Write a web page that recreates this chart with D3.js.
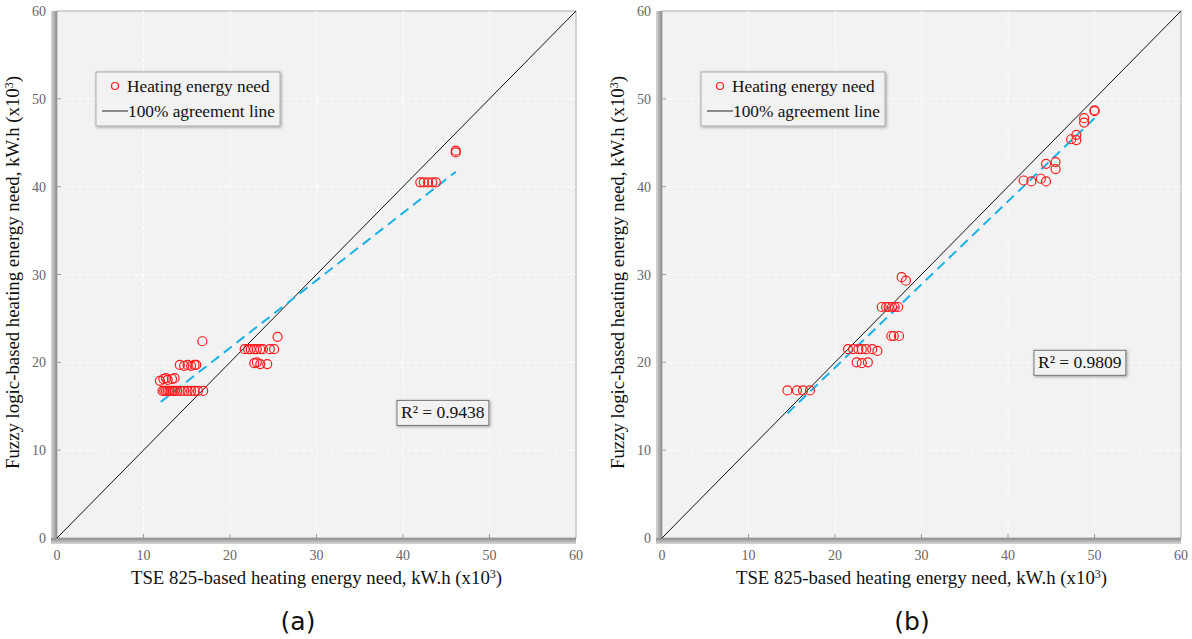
<!DOCTYPE html>
<html><head><meta charset="utf-8">
<script src="https://cdn.jsdelivr.net/npm/d3@7"></script>
<style>body{margin:0;background:#fff}svg{display:block}</style></head>
<body><svg id="c" width="1192" height="639"></svg>
<script>
// ---- data ----
const tickValues = [0, 10, 20, 30, 40, 50, 60];
const xTitle = "TSE 825-based heating energy need, kW.h (x10";
const yTitle = "Fuzzy logic-based heating energy need, kW.h (x10";
const legendLabels = ["Heating energy need", "100% agreement line"];

// panel (a)
const aX = [12.2,12.4,12.6,12.8,13.0,13.2,13.4,13.6,13.9,14.3,14.7,15.1,15.5,15.9,16.3,16.9,
            11.9,12.3,12.6,12.8,13.3,13.6,
            14.2,14.7,15.1,15.5,15.9,16.1,
            16.8,
            21.7,22.1,22.4,22.8,23.1,23.5,23.8,24.6,25.1,
            25.5,
            22.8,23.1,23.5,24.3,
            42.0,42.4,42.9,43.4,43.8,
            46.1,46.1];
const aY = [16.75,16.75,16.75,16.75,16.75,16.75,16.75,16.75,16.75,16.75,16.75,16.75,16.75,16.75,16.75,16.75,
            17.9,18.1,18.2,18.0,18.1,18.2,
            19.7,19.6,19.7,19.6,19.7,19.7,
            22.4,
            21.5,21.5,21.5,21.5,21.5,21.5,21.5,21.5,21.5,
            22.9,
            19.9,20.0,19.8,19.8,
            40.5,40.5,40.5,40.5,40.5,
            44.1,43.9];
const aTrendX = [12.0, 46.1];
const aTrendY = [15.5, 41.7];
const aR2 = "R² = 0.9438";
const aR2Pos = [44.6, 14.3];

// panel (b)
const bX = [14.5,15.6,16.3,17.1,
            21.5,22.1,22.7,23.1,23.6,24.3,24.9,
            22.5,23.1,23.8,
            26.5,26.8,27.4,
            25.4,25.9,26.2,26.6,26.9,27.3,
            27.7,28.2,
            41.8,42.7,43.8,44.4,
            44.4,45.5,45.5,
            47.3,47.9,47.9,
            48.8,48.8,
            50.0,50.0];
const bY = [16.8,16.8,16.8,16.8,
            21.5,21.5,21.5,21.5,21.5,21.5,21.3,
            20.0,19.9,20.0,
            23.0,23.0,23.0,
            26.3,26.3,26.3,26.3,26.3,26.3,
            29.7,29.3,
            40.7,40.6,40.9,40.6,
            42.6,42.8,42.0,
            45.4,45.9,45.3,
            47.8,47.3,
            48.7,48.6];
const bTrendX = [14.5, 50.0];
const bTrendY = [14.2, 47.8];
const bR2 = "R² = 0.9809";
const bR2Pos = [48.3, 20.0];

const panelLabels = ["(a)", "(b)"];

// ---- drawing ----
const svg = d3.select("#c");
const defs = svg.append("defs");
const gl = defs.append("linearGradient").attr("id","gL").attr("x1","0").attr("x2","1").attr("y1","0").attr("y2","0");
gl.append("stop").attr("offset","0").attr("stop-color","#d8d8d8");
gl.append("stop").attr("offset","1").attr("stop-color","#8a8a8a");
const gb = defs.append("linearGradient").attr("id","gB").attr("x1","0").attr("x2","0").attr("y1","0").attr("y2","1");
gb.append("stop").attr("offset","0").attr("stop-color","#8a8a8a");
gb.append("stop").attr("offset","1").attr("stop-color","#d8d8d8");
const sh = defs.append("filter").attr("id","sh").attr("x","-20%").attr("y","-20%").attr("width","140%").attr("height","140%");
sh.append("feDropShadow").attr("dx",1).attr("dy",1).attr("stdDeviation",1.5).attr("flood-color","#000").attr("flood-opacity",0.35);

const serif = "'Liberation Serif','Times New Roman',serif";

function panel(x0, xs, ys, tx, ty, r2, r2pos, label, labelX) {
  const x = d3.scaleLinear().domain([0,60]).range([x0, x0+519]);
  const y = d3.scaleLinear().domain([0,60]).range([538, 11]);
  const g = svg.append("g");
  const X0 = x(0), X1 = x(60), Y0 = y(0), Y1 = y(60);
  // bevel shadow
  g.append("rect").attr("x",X0-6).attr("y",Y1).attr("width",6).attr("height",Y0-Y1+6).attr("fill","url(#gL)");
  g.append("rect").attr("x",X0-6).attr("y",Y0).attr("width",X1-X0+6).attr("height",6).attr("fill","url(#gB)");
  g.append("rect").attr("x",X0).attr("y",Y1).attr("width",X1-X0).attr("height",Y0-Y1)
    .attr("fill","#f2f2f2").attr("stroke","#9a9a9a").attr("stroke-width",0.8);
  // grid
  const inner = tickValues.filter(v => v>0 && v<60);
  g.selectAll(".gx").data(inner).enter().append("line")
    .attr("x1",d=>x(d)).attr("x2",d=>x(d)).attr("y1",Y0).attr("y2",Y1)
    .attr("stroke","#fff").attr("stroke-width",1).attr("stroke-dasharray","4,3");
  g.selectAll(".gy").data(inner).enter().append("line")
    .attr("y1",d=>y(d)).attr("y2",d=>y(d)).attr("x1",X0).attr("x2",X1)
    .attr("stroke","#fff").attr("stroke-width",1).attr("stroke-dasharray","4,3");
  // ticks
  g.selectAll(".tx").data(inner).enter().append("line")
    .attr("x1",d=>x(d)).attr("x2",d=>x(d)).attr("y1",Y0).attr("y2",Y0-4).attr("stroke","#999");
  g.selectAll(".ty").data(inner).enter().append("line")
    .attr("y1",d=>y(d)).attr("y2",d=>y(d)).attr("x1",X0).attr("x2",X0+4).attr("stroke","#999");
  // tick labels
  g.selectAll(".lx").data(tickValues).enter().append("text")
    .attr("x",d=>x(d)).attr("y",Y0+22).attr("text-anchor","middle")
    .attr("font-family",serif).attr("font-size",14).attr("fill","#666").text(d=>d);
  g.selectAll(".ly").data(tickValues).enter().append("text")
    .attr("x",X0-11).attr("y",d=>y(d)+5).attr("text-anchor","end")
    .attr("font-family",serif).attr("font-size",14).attr("fill","#666").text(d=>d);
  // axis titles
  const xt = g.append("text").attr("x",(X0+X1)/2).attr("y",584).attr("text-anchor","middle")
    .attr("font-family",serif).attr("font-size",18.8).attr("fill","#111");
  xt.append("tspan").text(xTitle);
  xt.append("tspan").attr("dy",-6).attr("font-size",12).text("3");
  xt.append("tspan").attr("dy",6).text(")");
  const yt = g.append("text").attr("transform",`translate(${X0-38},${(Y0+Y1)/2-2}) rotate(-90)`)
    .attr("text-anchor","middle").attr("font-family",serif).attr("font-size",18.8).attr("fill","#111");
  yt.append("tspan").text(yTitle);
  yt.append("tspan").attr("dy",-6).attr("font-size",12).text("3");
  yt.append("tspan").attr("dy",6).text(")");
  // agreement line
  g.append("line").attr("x1",x(0)).attr("y1",y(0)).attr("x2",x(60)).attr("y2",y(60))
    .attr("stroke","#111").attr("stroke-width",1);
  // trend line
  g.append("line").attr("x1",x(tx[0])).attr("y1",y(ty[0])).attr("x2",x(tx[1])).attr("y2",y(ty[1]))
    .attr("stroke","#1ab0e8").attr("stroke-width",2).attr("stroke-dasharray","10,6");
  // points
  g.selectAll(".pt").data(xs.map((v,i)=>[v, ys[i]])).enter().append("circle")
    .attr("cx",d=>x(d[0])).attr("cy",d=>y(d[1])).attr("r",4.5)
    .attr("fill","none").attr("stroke","#ff1a1a").attr("stroke-width",1.2);
  // R2 box
  const rx = x(r2pos[0]), ry = y(r2pos[1]);
  const rt = g.append("text").attr("x",rx).attr("y",ry+6).attr("text-anchor","middle")
    .attr("font-family",serif).attr("font-size",17.5).attr("fill","#111").text(r2);
  const bb = rt.node().getBBox();
  g.insert("rect", () => rt.node()).attr("x",bb.x-4).attr("y",ry-12).attr("width",bb.width+8).attr("height",25)
    .attr("fill","#f2f2f2").attr("stroke","#777").attr("stroke-width",1).attr("filter","url(#sh)");
  // legend
  const lx = X0+39, ly = 72;
  g.append("rect").attr("x",lx).attr("y",ly).attr("width",184).attr("height",54)
    .attr("fill","#f2f2f2").attr("stroke","#aaa").attr("stroke-width",1).attr("filter","url(#sh)");
  g.append("circle").attr("cx",lx+19).attr("cy",ly+14).attr("r",3.5)
    .attr("fill","none").attr("stroke","#ff1a1a").attr("stroke-width",1.2);
  g.append("text").attr("x",lx+31).attr("y",ly+20).attr("font-family",serif).attr("font-size",17.3)
    .attr("fill","#111").text(legendLabels[0]);
  g.append("line").attr("x1",lx+6).attr("x2",lx+32).attr("y1",ly+39).attr("y2",ly+39)
    .attr("stroke","#444").attr("stroke-width",1.2);
  g.append("text").attr("x",lx+32).attr("y",ly+45).attr("font-family",serif).attr("font-size",17.3)
    .attr("fill","#111").text(legendLabels[1]);
  // panel label
  g.append("text").attr("x",labelX).attr("y",630).attr("text-anchor","middle")
    .attr("font-family","'DejaVu Sans',sans-serif").attr("font-size",25).attr("fill","#111").text(label);
}

panel(57, aX, aY, aTrendX, aTrendY, aR2, aR2Pos, panelLabels[0], 298);
panel(662, bX, bY, bTrendX, bTrendY, bR2, bR2Pos, panelLabels[1], 912);
</script>
</body></html>
